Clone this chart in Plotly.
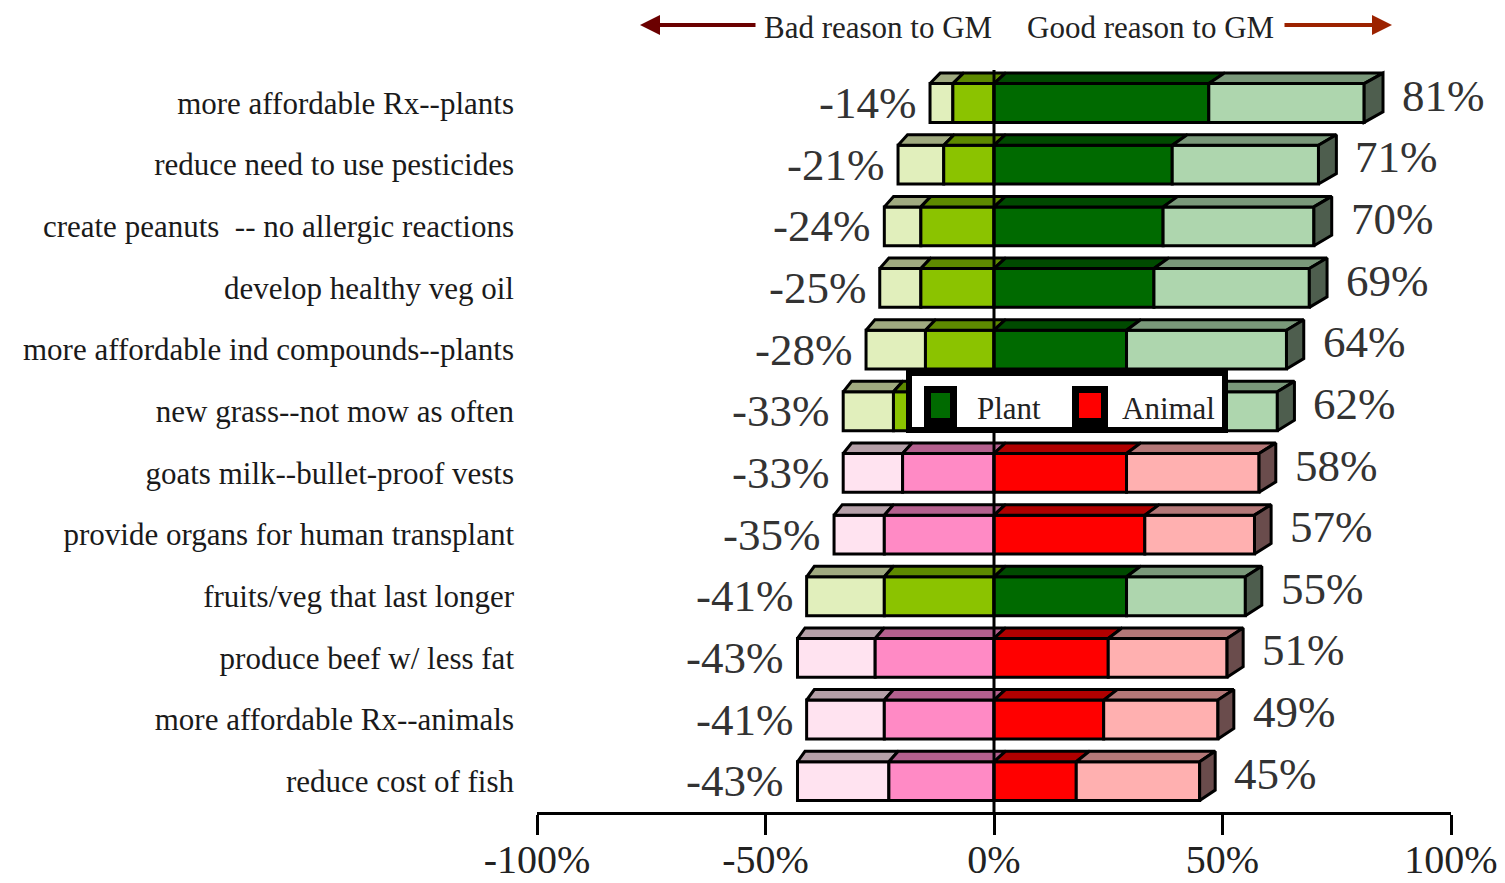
import plotly.graph_objects as go

# Reasons for genetic modification, top to bottom
categories = [
    "more affordable Rx--plants",
    "reduce need to use pesticides",
    "create peanuts \u00a0-- no allergic reactions",
    "develop healthy veg oil",
    "more affordable ind compounds--plants",
    "new grass--not mow as often",
    "goats milk--bullet-proof vests",
    "provide organs for human transplant",
    "fruits/veg that last longer",
    "produce beef w/ less fat",
    "more affordable Rx--animals",
    "reduce cost of fish",
]
group = ["Plant", "Plant", "Plant", "Plant", "Plant", "Plant",
         "Animal", "Animal", "Plant", "Animal", "Animal", "Animal"]

# Percent of respondents per answer (bad side drawn to the left of zero)
very_bad = [5, 10, 8, 9, 13, 11, 13, 11, 17, 17, 17, 20]
bad = [9, 11, 16, 16, 15, 22, 20, 24, 24, 26, 24, 23]
good = [47, 39, 37, 35, 29, 32, 29, 33, 29, 25, 24, 18]
very_good = [34, 32, 33, 34, 35, 30, 29, 24, 26, 26, 25, 27]

x_ticks = [-100, -50, 0, 50, 100]
x_tick_text = ["-100%", "-50%", "0%", "50%", "100%"]

# Colours: front face, top face per answer, and right side face
FRONT = {
    "Plant": ["#E1EFBC", "#8BC300", "#006A00", "#AED6AE"],
    "Animal": ["#FFE3F0", "#FF8AC5", "#FF0000", "#FFB0B0"],
}
TOP = {
    "Plant": ["#A0AA80", "#5E8A00", "#004A00", "#7A987A"],
    "Animal": ["#B5A0A8", "#B4608E", "#B00000", "#B47878"],
}
SIDE = {"Plant": "#4E5E4E", "Animal": "#6A4C4C"}

SERIF = "Liberation Serif, Times New Roman, serif"
BAR_W = 0.63      # front face height (category units)
DEPTH = 0.17      # vertical depth of the 3D top face (category units)


def shift(x):
    """Horizontal depth offset of the back face (percent units)."""
    return 2.5 + 0.02 * x


n = len(categories)
idx = list(range(n))

# Segment bounds [start, end] for each answer
segments = []
for i in range(n):
    b0 = -(very_bad[i] + bad[i])
    b1 = -bad[i]
    g1 = good[i]
    g2 = good[i] + very_good[i]
    segments.append([(b0, b1), (b1, 0), (0, g1), (g1, g2)])

fig = go.Figure()

# Front faces
for k in range(4):
    fig.add_trace(go.Bar(
        y=idx,
        x=[segments[i][k][1] - segments[i][k][0] for i in idx],
        base=[segments[i][k][0] for i in idx],
        orientation="h",
        width=BAR_W,
        marker=dict(color=[FRONT[group[i]][k] for i in idx],
                    line=dict(color="black", width=3)),
        hoverinfo="skip",
        showlegend=False,
    ))

# Top faces (one trace per answer and group)
for g in ["Plant", "Animal"]:
    for k in range(4):
        xs, ys = [], []
        for i in idx:
            if group[i] != g:
                continue
            x0, x1 = segments[i][k]
            yt = i - BAR_W / 2
            xs += [x0, x1, x1 + shift(x1), x0 + shift(x0), x0, None]
            ys += [yt, yt, yt - DEPTH, yt - DEPTH, yt, None]
        fig.add_trace(go.Scatter(
            x=xs, y=ys, mode="lines", fill="toself",
            fillcolor=TOP[g][k], line=dict(color="black", width=3),
            hoverinfo="skip", showlegend=False,
        ))

# Right side faces
for g in ["Plant", "Animal"]:
    xs, ys = [], []
    for i in idx:
        if group[i] != g:
            continue
        xr = segments[i][3][1]
        d = shift(xr)
        yt, yb = i - BAR_W / 2, i + BAR_W / 2
        xs += [xr, xr + d, xr + d, xr, xr, None]
        ys += [yt, yt - DEPTH, yb - DEPTH, yb, yt, None]
    fig.add_trace(go.Scatter(
        x=xs, y=ys, mode="lines", fill="toself",
        fillcolor=SIDE[g], line=dict(color="black", width=3),
        hoverinfo="skip", showlegend=False,
    ))

annotations = []
# Totals on each side
for i in idx:
    neg = -(very_bad[i] + bad[i])
    pos = good[i] + very_good[i]
    annotations.append(dict(
        x=neg, y=i, xref="x", yref="y", text=f"{neg}%", showarrow=False,
        xanchor="right", yanchor="middle", xshift=-12,
        font=dict(family=SERIF, size=45, color="#333333"),
    ))
    annotations.append(dict(
        x=pos + shift(pos), y=i - 0.12, xref="x", yref="y", text=f"{pos}%",
        showarrow=False, xanchor="left", yanchor="middle", xshift=17,
        font=dict(family=SERIF, size=45, color="#333333"),
    ))

# Plot area in pixels (used for placing header and key)
L, R, T, B = 537, 1451, 66, 812


def px(xp):
    return (xp - L) / (R - L)


def py(yp):
    return (B - yp) / (B - T)


# Header with arrows
annotations += [
    dict(x=0, y=py(27), xref="x", yref="paper", text="Bad reason to GM",
         showarrow=False, xanchor="right", yanchor="middle", xshift=0,
         font=dict(family=SERIF, size=31, color="#222222")),
    dict(x=0, y=py(27), xref="x", yref="paper", text="Good reason to GM",
         showarrow=False, xanchor="left", yanchor="middle", xshift=31,
         font=dict(family=SERIF, size=31, color="#222222")),
    dict(x=px(640), y=py(25), xref="paper", yref="paper", text="",
         showarrow=True, ax=117, ay=0, axref="pixel", ayref="pixel",
         arrowhead=2, arrowsize=1, arrowwidth=4, arrowcolor="#6B0000"),
    dict(x=px(1392), y=py(25), xref="paper", yref="paper", text="",
         showarrow=True, ax=-109, ay=0, axref="pixel", ayref="pixel",
         arrowhead=2, arrowsize=1, arrowwidth=4, arrowcolor="#9C2200"),
]

shapes = [
    # zero line across the bars
    dict(type="line", xref="x", yref="paper", x0=0, x1=0, y0=0, y1=py(70),
         line=dict(color="black", width=3), layer="above"),
    # key box
    dict(type="rect", xref="paper", yref="paper",
         x0=px(909), x1=px(1225), y0=py(430), y1=py(373),
         fillcolor="white", line=dict(color="black", width=6), layer="above"),
]
for (x0, x1, col) in [(924, 957, FRONT["Plant"][2]), (1072, 1108, FRONT["Animal"][2])]:
    shapes.append(dict(type="rect", xref="paper", yref="paper",
                       x0=px(x0), x1=px(x1), y0=py(428), y1=py(386),
                       fillcolor="black", line=dict(width=0), layer="above"))
    shapes.append(dict(type="rect", xref="paper", yref="paper",
                       x0=px(x0 + 7), x1=px(x1 - 7), y0=py(418), y1=py(393),
                       fillcolor=col, line=dict(width=0), layer="above"))
annotations += [
    dict(x=px(975), y=py(408), xref="paper", yref="paper", text="Plant",
         showarrow=False, xanchor="left", yanchor="middle",
         font=dict(family=SERIF, size=31, color="#222222")),
    dict(x=px(1120), y=py(408), xref="paper", yref="paper", text="Animal",
         showarrow=False, xanchor="left", yanchor="middle",
         font=dict(family=SERIF, size=31, color="#222222")),
]

fig.update_layout(
    width=1505, height=883,
    margin=dict(l=L, r=1505 - R, t=T, b=883 - B, pad=0),
    paper_bgcolor="white", plot_bgcolor="white",
    barmode="overlay",
    showlegend=False,
    annotations=annotations,
    shapes=shapes,
    xaxis=dict(
        range=[-100, 100], tickvals=x_ticks, ticktext=x_tick_text,
        showline=True, linecolor="black", linewidth=3,
        ticks="outside", ticklen=20, tickwidth=3, tickcolor="black",
        showgrid=False, zeroline=False, ticklabelstandoff=-10,
        automargin=False,
        tickfont=dict(family=SERIF, size=40, color="#222222"),
    ),
    yaxis=dict(
        range=[11.5, -0.6], tickvals=idx, ticktext=categories,
        showline=False, showgrid=False, zeroline=False, ticks="",
        ticklabelstandoff=22, automargin=False,
        tickfont=dict(family=SERIF, size=31, color="#1A1A1A"),
    ),
)

fig.write_html("out.html")
